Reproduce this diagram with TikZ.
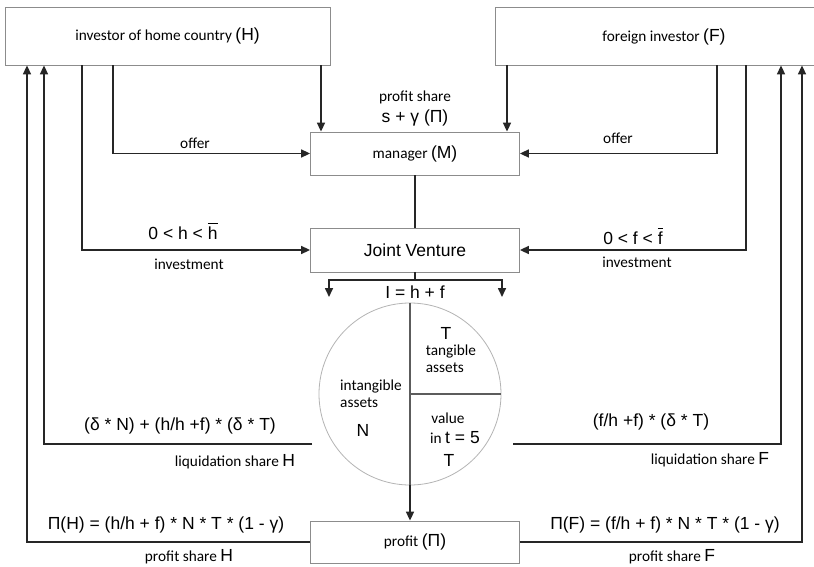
\documentclass[tikz,border=0pt]{standalone}
\usepackage{fontspec}
\setmainfont{Carlito}
\newfontfamily\ar{Liberation Sans}
\usetikzlibrary{arrows.meta}
\definecolor{ln}{HTML}{262626}
\definecolor{bx}{HTML}{8C8C8C}
\definecolor{cl}{HTML}{B4B4B4}
\tikzset{
  boxn/.style={draw=bx, line width=0.8pt, fill=white, inner sep=0pt, font=\fontsize{15.3}{17}\selectfont},
  conn/.style={draw=ln, line width=1.6pt},
  arr/.style={conn, -{Triangle[length=9pt,width=8pt]}},
  lab/.style={inner sep=0pt, font=\fontsize{15.3}{17}\selectfont},
  fml/.style={inner sep=0pt, font=\ar\fontsize{17.5}{20}\selectfont},
}
\newcommand{\A}[1]{{\ar\fontsize{17.5}{20}\selectfont #1}}
\newcommand{\barred}[1]{$\overline{\hbox{\ar\fontsize{17.5}{20}\selectfont\strut #1}}$}
\begin{document}
\begin{tikzpicture}[x=1pt,y=-1pt]
\useasboundingbox (0,0) rectangle (814,567);
\fill[white] (0,0) rectangle (814,567);
% boxes
\node[boxn, minimum width=325pt, minimum height=58pt] (H) at (167.5,36) {investor of home country \A{(H)}};
\node[boxn, minimum width=330pt, minimum height=58pt] (F) at (660,36) {};
\node[lab] (Ft) at (664,37) {foreign investor \A{(F)}};
\node[boxn, minimum width=209pt, minimum height=43pt] (M) at (415,153.5) {manager \A{(M)}};
\node[boxn, minimum width=209pt, minimum height=44pt, font=\ar\fontsize{17.5}{20}\selectfont] (JV) at (415,250) {Joint Venture};
\node[boxn, minimum width=209pt, minimum height=42pt] (P) at (415,542) {profit \A{(Π)}};
\node[draw=cl, line width=0.8pt, circle, minimum size=182pt, inner sep=0pt] (C) at (410,394) {};
\draw[draw=ln!75, line width=1.1pt] (C.north) -- (C.south);
\draw[draw=ln!75, line width=1.1pt] (C.center) -- (C.east);
% top connectors
\draw[arr] (321,0 |- H.south) -- (321,0 |- M.north);
\draw[arr] (113,0 |- H.south) |- (M.west);
\draw[arr] (82,0 |- H.south) |- (JV.west);
\draw[arr] (507,0 |- F.south) -- (507,0 |- M.north);
\draw[arr] (717,0 |- F.south) |- (M.east);
\draw[arr] (746,0 |- F.south) |- (JV.east);
\draw[conn] (M.south) -- (JV.north);
\coordinate (jb) at (415,280);
\coordinate (sl) at (329,280);
\coordinate (sr) at (502,280);
\draw[conn] (JV.south) -- (jb);
\draw[arr] (jb) -- (sl) -- ++(0,17);
\draw[arr] (jb) -- (sr) -- ++(0,17);
% liquidation
\coordinate (ll) at (312,444);
\coordinate (lr) at (513,444);
\draw[arr] (ll) -| (44,0 |- H.south);
\draw[arr] (lr) -| (781,0 |- F.south);
% profit
\draw[arr] (C.south) -- (C.south |- P.north);
\draw[arr] (P.west) -| (27,0 |- H.south);
\draw[arr] (P.east) -| (802,0 |- F.south);
% labels
\node[lab] (ps) at (415,97) {profit share};
\node[fml] (sg) at (415,118) {s + γ (Π)};
\node[lab] (o1) at (195,143) {offer};
\node[lab] (o2) at (618,138) {offer};
\node[fml, anchor=base] (hb) at (183,239) {0 < h < \barred{h}};
\node[lab] (i1) at (189,264) {investment};
\node[fml, anchor=base] (fb) at (633,244) {0 < f < \barred{f}};
\node[lab] (i2) at (637,262) {investment};
\node[fml] (ihf) at (415,292) {I = h + f};
% circle text
\node[fml] (T1) at (446,333) {T};
\node[lab, align=left] (ta) at (451,359) {tangible\\assets};
\node[lab, align=left] (ia) at (371,394) {intangible\\assets};
\node[fml] (N) at (363,430) {N};
\node[lab] (va) at (448,418) {value};
\node[lab] (it) at (455,438) {in \A{t = 5}};
\node[fml] (T2) at (449,460) {T};
% formulas
\node[fml] (lqH) at (180,426) {(δ * N) + (h/h +f) * (δ * T)};
\node[lab] (lsH) at (235,462) {liquidation share \A{H}};
\node[fml] (lqF) at (651,422) {(f/h +f) * (δ * T)};
\node[lab] (lsF) at (710,460) {liquidation share \A{F}};
\node[fml] (pH) at (166,525) {Π(H) = (h/h + f) * N * T * (1 - γ)};
\node[lab] (psH) at (189,557) {profit share \A{H}};
\node[fml] (pF) at (665,525) {Π(F) = (f/h + f) * N * T * (1 - γ)};
\node[lab] (psF) at (672,557) {profit share \A{F}};
\end{tikzpicture}
\end{document}
